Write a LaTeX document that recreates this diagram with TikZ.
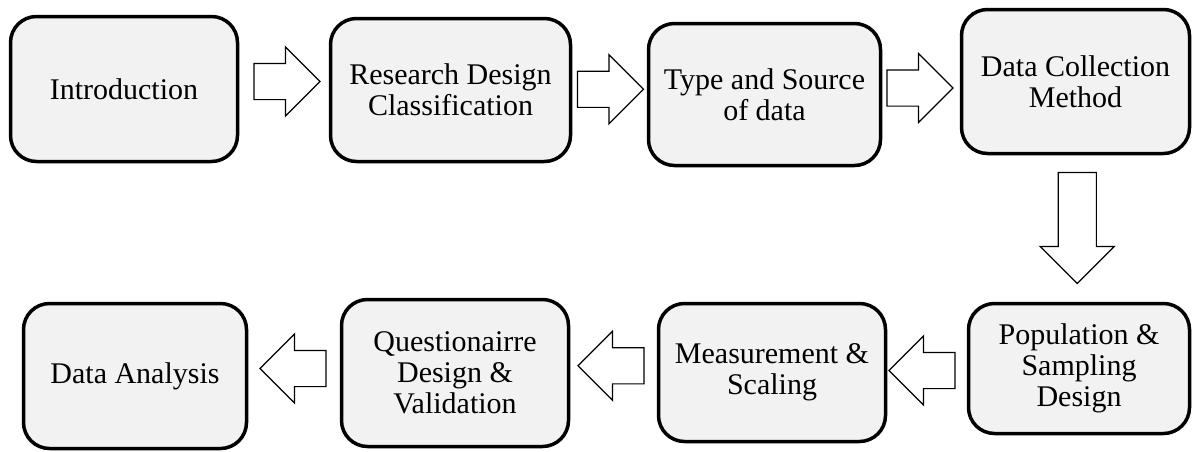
\documentclass[tikz,border=0pt]{standalone}
\usepackage{fontspec}
\setmainfont{Liberation Serif}
\usetikzlibrary{shapes.arrows,calc}

\definecolor{boxgray}{HTML}{F2F2F2}

\tikzset{
  stage/.style={draw, line width=3.5pt, rounded corners=26pt, fill=boxgray,
    align=center, inner sep=0pt, font=\fontsize{30}{31}\selectfont},
  flow/.style={single arrow, draw, line width=1.2pt, fill=white,
    inner xsep=0pt, inner ysep=17.5pt, minimum height=66pt,
    single arrow head extend=16.5pt, single arrow tip angle=90}
}

\begin{document}
\begin{tikzpicture}[x=1pt,y=-1pt]
  \useasboundingbox (0,0) rectangle (1193,451);

  % Top row of stages
  \node[stage, minimum width=227pt, minimum height=145pt] (intro) at (124,89) {Introduction};
  \node[stage, minimum width=240pt, minimum height=143pt] (design) at (450.5,90) {Research Design\\Classification};
  \node[stage, minimum width=232pt, minimum height=142pt] (source) at (764.5,94.5) {Type and Source\\of data};
  \node[stage, minimum width=228pt, minimum height=144pt] (collect) at (1075.5,81.5) {Data Collection\\Method};

  % Bottom row of stages
  \node[stage, minimum width=221pt, minimum height=130pt] (sample) at (1079,368.5) {Population \&\\Sampling\\Design};
  \node[stage, minimum width=227pt, minimum height=138pt] (measure) at (772,372.5) {Measurement \&\\Scaling};
  \node[stage, minimum width=227pt, minimum height=147pt] (quest) at (455,373) {Questionairre\\Design \&\\Validation};
  \node[stage, minimum width=223pt, minimum height=145pt] (analysis) at (135,376) {Data Analysis};

  % Block arrows between stages
  \node[flow] (a1) at ($(intro.east)!.5!(design.west)$) [xshift=-6pt, yshift=8pt] {};
  \node[flow] (a2) at ($(design.east)!.5!(source.west)$) [xshift=-8pt, yshift=3pt] {};
  \node[flow] (a3) at ($(source.east)!.5!(collect.west)$) [xshift=-10pt] {};
  \node[flow, shape border rotate=270, minimum height=111pt, inner xsep=18.5pt, inner ysep=0pt,
        single arrow head extend=18pt] (a4) at ($(collect.south)!.5!(sample.north)$) [yshift=10pt] {};
  \node[flow, shape border rotate=180] (a5) at ($(sample.west)!.5!(measure.east)$) [xshift=4pt] {};
  \node[flow, shape border rotate=180] (a6) at ($(measure.west)!.5!(quest.east)$) [xshift=6.5pt, yshift=7pt] {};
  \node[flow, shape border rotate=180] (a7) at ($(quest.west)!.5!(analysis.east)$) [xshift=8pt, yshift=6pt] {};
\end{tikzpicture}
\end{document}
